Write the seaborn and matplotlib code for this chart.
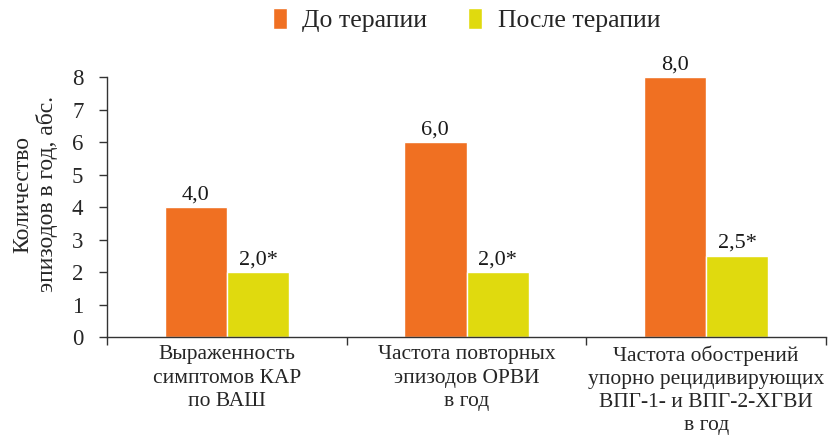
import matplotlib
matplotlib.use("Agg")
import matplotlib.pyplot as plt
import seaborn as sns
import pandas as pd
from matplotlib.ticker import FixedLocator

categories = ["Выраженность\nсимптомов КАР\nпо ВАШ",
              "Частота повторных\nэпизодов ОРВИ\nв год",
              "Частота обострений\nупорно рецидивирующих\nВПГ-1- и ВПГ-2-ХГВИ\nв год"]
series_names = ["До терапии", "После терапии"]
before = [4.0, 6.0, 8.0]
after = [2.0, 2.0, 2.5]
before_labels = ["4,0", "6,0", "8,0"]
after_labels = ["2,0*", "2,0*", "2,5*"]
colors = ["#F07022", "#E0DA0E"]

sns.set_theme(style="white")
plt.rcParams['font.family'] = ['Liberation Serif', 'DejaVu Serif']

df = pd.DataFrame({
    "cat": categories * 2,
    "series": [series_names[0]] * 3 + [series_names[1]] * 3,
    "val": before + after,
})

fig = plt.figure(figsize=(8.38, 4.38), dpi=100)
ax = fig.add_axes([0.1277, 0.2306, 0.858, 0.5934])
sns.barplot(data=df, x="cat", y="val", hue="series", palette=colors,
            width=0.52, saturation=1, ax=ax, errorbar=None)

labels_all = [before_labels, after_labels]
for cont, labs in zip(ax.containers, labels_all):
    ax.bar_label(cont, labels=labs, padding=2, fontsize=16, color="#1a1a1a")

ax.set_ylim(0, 8)
ax.set_xlim(-0.5, 2.5)
ax.set_yticks(range(0, 9))
ax.tick_params(axis="y", labelsize=16.5, length=6, width=1, color="#333333", direction="out", left=True, pad=11)
ax.tick_params(axis="x", which="major", length=0, labelsize=15.5, pad=6)
ax.xaxis.set_minor_locator(FixedLocator([-0.5, 0.5, 1.5, 2.5]))
ax.tick_params(axis="x", which="minor", length=6, width=1, color="#333333", direction="out", bottom=True)
for lbl in ax.get_xticklabels():
    lbl.set_linespacing(1.3)
ax.set_xlabel("")
ax.set_ylabel("Количество\nэпизодов в год, абс.", fontsize=17, linespacing=1.15)
ax.yaxis.set_label_coords(-0.068, 0.55)
for s in ["top", "right"]:
    ax.spines[s].set_visible(False)
for s in ["left", "bottom"]:
    ax.spines[s].set_color("#333333")
    ax.spines[s].set_linewidth(1)

leg = ax.legend(loc="center", bbox_to_anchor=(0.5, 1.22), ncol=2, frameon=False,
                fontsize=18.5, handlelength=0.55, handleheight=0.9, handletextpad=0.6,
                columnspacing=1.6, borderaxespad=0)

fig.savefig("out.png", dpi=100)
